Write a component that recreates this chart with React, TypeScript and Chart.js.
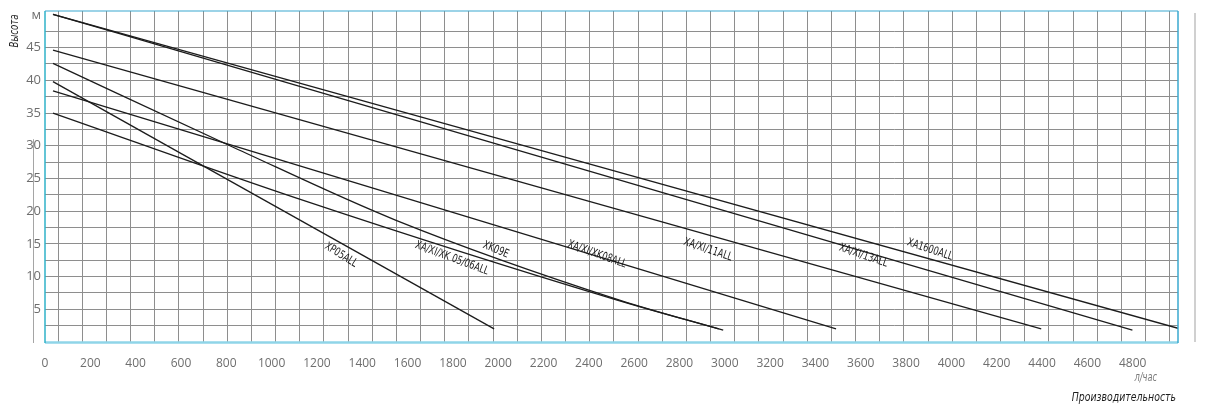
import React, { useEffect, useRef } from 'react';
import { Chart, registerables } from 'chart.js';

Chart.register(...registerables);

// Pump curves: head (m) vs flow (l/h)
const flowXA1600 = [65, 5000];
const headXA1600 = [50.1, 2.1];
const flowXA13 = [65, 4800];
const headXA13 = [50.1, 1.8];
const flowXA11 = [65, 4400];
const headXA11 = [44.6, 2.0];
const flowXK08 = [65, 3500];
const headXK08 = [38.4, 2.0];
const flowXK09E = [65, 860, 1570, 2550, 3005];
const headXK09E = [42.6, 29.7, 18.6, 6.4, 1.8];
const flowXK0506 = [65, 1150, 2540, 2985];
const headXK0506 = [35.0, 21.8, 6.4, 2.0];
const flowXP05 = [65, 2000];
const headXP05 = [39.8, 2.0];

const seriesNames = ['XA1600ALL', 'XA/XI/13ALL', 'XA/XI/11ALL', 'XA/XI/XK08ALL', 'XK09E', 'XA/XI/XK 05/06ALL', 'XP05ALL'];
const seriesFlows = [flowXA1600, flowXA13, flowXA11, flowXK08, flowXK09E, flowXK0506, flowXP05];
const seriesHeads = [headXA1600, headXA13, headXA11, headXK08, headXK09E, headXK0506, headXP05];
const labelFlow = [3912, 3620, 2938, 2451, 2008, 1815, 1328];
const labelHead = [14.1, 13.2, 14.1, 13.4, 14.1, 12.8, 13.3];

const xTickValues = [0, 200, 400, 600, 800, 1000, 1200, 1400, 1600, 1800, 2000, 2200, 2400, 2600, 2800, 3000, 3200, 3400, 3600, 3800, 4000, 4200, 4400, 4600, 4800];
const yGridValues = [2.5, 5, 7.5, 10, 12.5, 15, 17.5, 20, 22.5, 25, 27.5, 30, 32.5, 35, 37.5, 40, 42.5, 45, 47.5, 50];
const yUnitLabel = 'м';
const yTitle = 'Высота';
const xUnitLabel = 'л/час';
const xTitle = 'Производительность';

const GRID = '#8e8e8e';
const TICK = '#6e6e6e';
const NARROW = '"Liberation Sans Narrow", "DejaVu Sans Condensed", sans-serif';
const SQUEEZE = 0.8;

const decorPlugin = {
  id: 'decor',
  afterDatasetsDraw(chart: any) {
    const { ctx, chartArea: a, scales } = chart;
    const xs = scales.x;
    const ys = scales.y;
    ctx.save();
    // frame
    ctx.lineCap = 'butt';
    ctx.strokeStyle = '#8fd5e8';
    ctx.lineWidth = 2.5;
    ctx.beginPath(); ctx.moveTo(a.left, a.bottom + 0.5); ctx.lineTo(a.right, a.bottom + 0.5); ctx.stroke();
    ctx.strokeStyle = '#2fb2c8';
    ctx.lineWidth = 1.5;
    ctx.beginPath(); ctx.moveTo(a.left, a.top); ctx.lineTo(a.left, a.bottom + 1); ctx.stroke();
    ctx.strokeStyle = '#3aa8cf';
    ctx.beginPath(); ctx.moveTo(a.right, a.top); ctx.lineTo(a.right, a.bottom + 1); ctx.stroke();
    ctx.lineWidth = 1.2;
    ctx.beginPath(); ctx.moveTo(a.left, a.top); ctx.lineTo(a.right, a.top); ctx.stroke();
    // side rules
    ctx.strokeStyle = '#a5a5a5';
    ctx.lineWidth = 1;
    ctx.beginPath(); ctx.moveTo(a.left - 11.5, ys.getPixelForValue(31)); ctx.lineTo(a.left - 11.5, a.bottom + 1); ctx.stroke();
    ctx.strokeStyle = '#d0d0d0';
    ctx.lineWidth = 2;
    ctx.beginPath(); ctx.moveTo(a.right + 17, a.top + 2); ctx.lineTo(a.right + 17, a.bottom); ctx.stroke();

    // curve labels, rotated along the local slope of their curve
    ctx.fillStyle = '#1a1a1a';
    ctx.font = '11.5px ' + NARROW;
    ctx.textAlign = 'center';
    ctx.textBaseline = 'middle';
    seriesNames.forEach((name, i) => {
      const f = seriesFlows[i];
      const h = seriesHeads[i];
      let k = 0;
      while (k < f.length - 2 && f[k + 1] < labelFlow[i]) k++;
      const x0 = xs.getPixelForValue(f[k]);
      const y0 = ys.getPixelForValue(h[k]);
      const x1 = xs.getPixelForValue(f[k + 1]);
      const y1 = ys.getPixelForValue(h[k + 1]);
      const ang = Math.atan2(y1 - y0, x1 - x0) + 0.05;
      ctx.save();
      ctx.translate(xs.getPixelForValue(labelFlow[i]), ys.getPixelForValue(labelHead[i]));
      ctx.rotate(ang);
      ctx.scale(SQUEEZE, 1);
      ctx.fillText(name, 0, 0);
      ctx.restore();
    });

    // axis titles
    ctx.save();
    ctx.translate(a.left - 30, a.top + 20);
    ctx.rotate(-Math.PI / 2);
    ctx.scale(SQUEEZE, 1);
    ctx.font = 'italic 12px ' + NARROW;
    ctx.fillStyle = '#2a2a2a';
    ctx.fillText(yTitle, 0, 0);
    ctx.restore();

    ctx.textAlign = 'right';
    ctx.save();
    ctx.translate(a.right - 21, a.bottom + 36);
    ctx.scale(SQUEEZE, 1);
    ctx.font = 'italic 11.5px ' + NARROW;
    ctx.fillStyle = '#7a7a7a';
    ctx.fillText(xUnitLabel, 0, 0);
    ctx.restore();
    ctx.save();
    ctx.translate(a.right - 2, a.bottom + 56);
    ctx.scale(SQUEEZE, 1);
    ctx.font = 'italic 13px ' + NARROW;
    ctx.fillStyle = '#1e1e1e';
    ctx.fillText(xTitle, 0, 0);
    ctx.restore();
    ctx.restore();
  },
};

export default function App() {
  const ref = useRef<HTMLCanvasElement | null>(null);

  useEffect(() => {
    if (!ref.current) return;
    const datasets = seriesNames.map((name, i) => ({
      label: name,
      data: seriesFlows[i].map((x, j) => ({ x, y: seriesHeads[i][j] })),
      borderColor: '#1c1c1c',
      borderWidth: 1.3,
      pointRadius: 0,
      fill: false,
      tension: 0.25,
      cubicInterpolationMode: 'monotone' as const,
      xAxisID: 'x',
      yAxisID: 'y',
    }));

    const chart = new Chart(ref.current, {
      type: 'line',
      data: { datasets },
      options: {
        responsive: false,
        animation: false,
        layout: { padding: { top: 3, right: 20, left: 0, bottom: 0 } },
        plugins: { legend: { display: false }, tooltip: { enabled: false } },
        scales: {
          x: { type: 'linear', display: false, min: 30, max: 5000 },
          xg: {
            type: 'linear',
            position: 'bottom',
            min: -0.538,
            max: 46.34,
            afterBuildTicks: (s: any) => {
              s.ticks = Array.from({ length: 47 }, (_, k) => ({ value: k }));
            },
            ticks: { display: false },
            grid: { color: GRID, lineWidth: 1, drawTicks: false },
            border: { display: false },
          },
          xl: {
            type: 'linear',
            position: 'bottom',
            min: 0,
            max: 5000,
            afterBuildTicks: (s: any) => {
              s.ticks = xTickValues.map((v) => ({ value: v }));
            },
            ticks: {
              autoSkip: false,
              maxRotation: 0,
              padding: 6,
              color: TICK,
              font: { family: '"Open Sans", sans-serif', size: 12 },
              callback: (v: any) => String(v),
            },
            grid: { display: false },
            border: { display: false },
            afterFit: (s: any) => {
              s.height = 66;
              s.paddingLeft = 0;
              s.paddingRight = 0;
            },
          },
          y: {
            type: 'linear',
            min: 0,
            max: 50.6,
            afterBuildTicks: (s: any) => {
              s.ticks = yGridValues.map((v) => ({ value: v }));
            },
            ticks: {
              autoSkip: false,
              padding: 4,
              color: TICK,
              font: { family: '"Open Sans", sans-serif', size: 13 },
              callback: (v: any) => (v === 50 ? yUnitLabel : v % 5 === 0 ? String(v) : ''),
            },
            grid: {
              color: (c: any) => (c.tick && c.tick.value === 50 ? 'rgba(0,0,0,0)' : GRID),
              lineWidth: 1,
              drawTicks: false,
            },
            border: { display: false },
            afterFit: (s: any) => {
              s.width = 37;
              s.paddingTop = 0;
              s.paddingBottom = 0;
            },
          },
        },
      } as any,
      plugins: [decorPlugin],
    });
    return () => chart.destroy();
  }, []);

  return (
    <div style={{ width: 1190, height: 400 }}>
      <canvas ref={ref} width={1190} height={400} />
    </div>
  );
}
